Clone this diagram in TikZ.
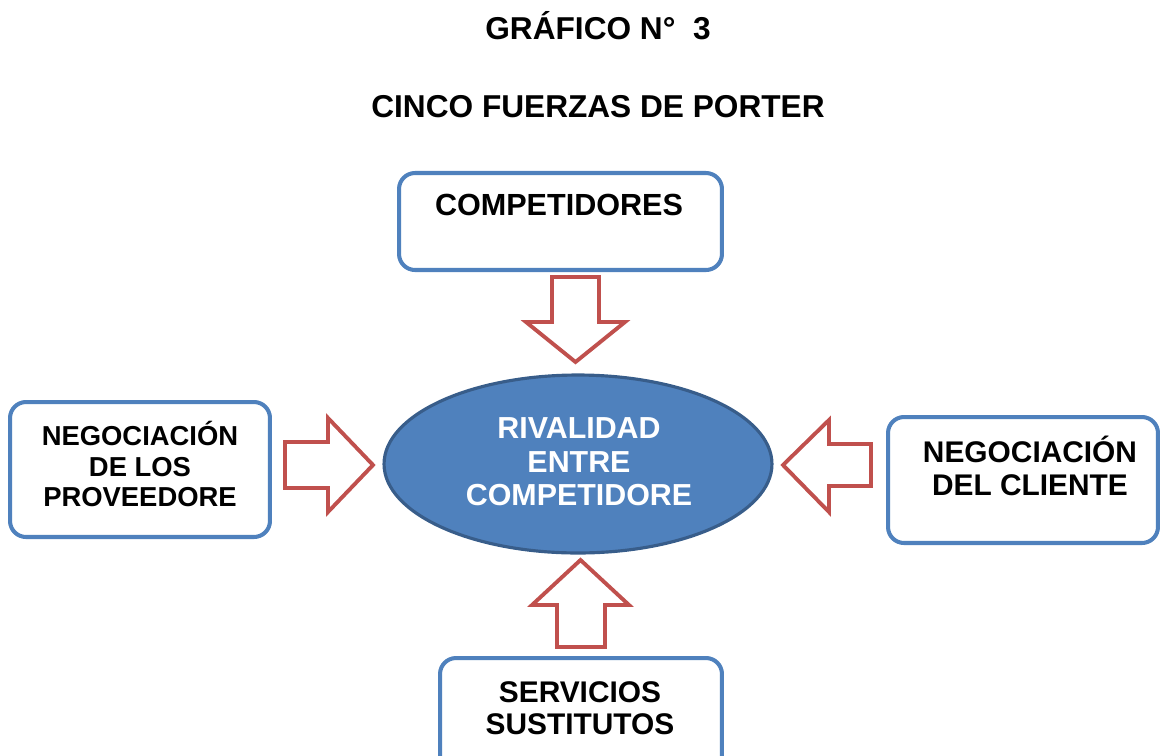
\documentclass[tikz,border=0pt]{standalone}
\usepackage{fontspec}
\setmainfont{Liberation Sans}
\usepackage{tikz}
\usetikzlibrary{positioning,shapes.geometric}

\definecolor{azulborde}{RGB}{79,129,189}
\definecolor{azulosc}{RGB}{56,93,138}
\definecolor{rojoflecha}{RGB}{192,80,77}

\tikzset{
  caja/.style = {draw=azulborde, line width=2.3pt, rounded corners=0.32cm, fill=white},
  texto/.style 2 args = {font=\bfseries\fontsize{#1}{#2}\selectfont, align=center, inner sep=0pt},
  flecha/.style = {draw=rojoflecha, line width=2.2pt, fill=white, line join=miter},
}

\begin{document}
\begin{tikzpicture}[x=0.02cm, y=-0.02cm]

    \path[use as bounding box, clip] (0,0) rectangle (1160,755);

    % titulos
    \node[texto={18}{18.5}, anchor=base] (tit) at (598,39) {GRÁFICO N°~~3};
    \node[texto={18}{18.5}, anchor=base] (subtit) at (598,117) {CINCO FUERZAS DE PORTER};

    % rivalidad
    \node[ellipse, draw=azulosc, line width=1.8pt, fill=azulborde,
          minimum width=7.76cm, minimum height=3.56cm] (riv) at (578,464) {};
    \node[texto={17.3}{19}, text=white] (rivtxt) at (579,462)
        {RIVALIDAD\\ENTRE\\COMPETIDORE};

    % cajas
    \node[caja, minimum width=6.46cm, minimum height=1.94cm] (comp) at (560.5,221.5) {};
    \node[texto={17.4}{18}] (comptxt) at (559,205) {COMPETIDORES};

    \node[caja, minimum width=5.2cm, minimum height=2.7cm] (prov) at (140,469.5) {};
    \node[texto={15.6}{17.6}] (provtxt) at (140,464) {NEGOCIACIÓN\\DE LOS\\PROVEEDORE};

    \node[caja, minimum width=5.4cm, minimum height=2.52cm] (cli) at (1023,480) {};
    \node[texto={17}{18.8}] (clitxt) at (1030,466) {NEGOCIACIÓN\\DEL CLIENTE};

    \node[caja, minimum width=5.64cm, minimum height=2.4cm] (sust) at (581,718) {};
    \node[texto={17}{18.2}] (susttxt) at (580,708) {SERVICIOS\\SUSTITUTOS};

    % flechas
    \draw[flecha] (552,277) -- (599,277) -- (599,322) -- (625,322) -- (575.5,362)
        -- (526,322) -- (552,322) -- cycle;
    \draw[flecha] (557,647) -- (605,647) -- (605,605) -- (629,605) -- (580.5,560)
        -- (532,605) -- (557,605) -- cycle;
    \draw[flecha] (285,442) -- (328,442) -- (328,418) -- (373,465) -- (328,512)
        -- (328,488) -- (285,488) -- cycle;
    \draw[flecha] (871,444) -- (829,444) -- (829,420) -- (783,465) -- (829,512)
        -- (829,486) -- (871,486) -- cycle;

\end{tikzpicture}
\end{document}
